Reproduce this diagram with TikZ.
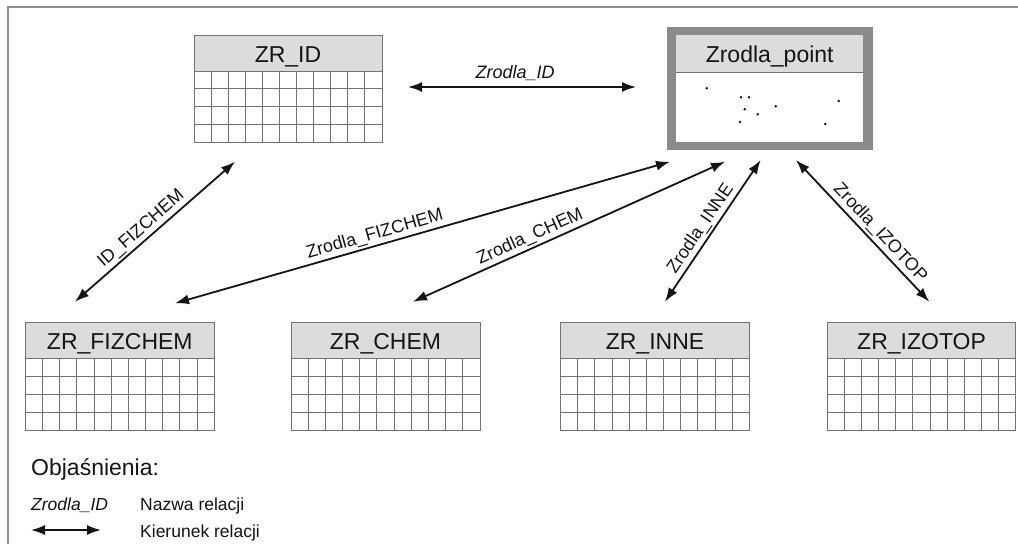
\documentclass[tikz,border=0pt]{standalone}
\usepackage{fontspec}
\setmainfont{Liberation Sans}
\usetikzlibrary{arrows.meta}
\definecolor{hdr}{HTML}{DCDCDC}
\definecolor{gridc}{HTML}{747474}
\definecolor{framec}{HTML}{909090}
\definecolor{thickc}{HTML}{8A8A8A}
\definecolor{ink}{HTML}{141414}
\tikzset{
  gridln/.style={draw=gridc, line width=1.0pt},
  hdrtext/.style={anchor=base, inner sep=0pt, text=ink, font=\fontsize{23}{27}\selectfont},
  conn/.style={draw=ink, line width=1.8pt, {Latex[length=14pt,width=10pt]}-{Latex[length=14pt,width=10pt]}},
  lbl/.style={text=ink, inner sep=2pt, font=\fontsize{18}{21}\selectfont},
  legtxt/.style={anchor=base west, inner sep=0pt, text=ink, font=\fontsize{17.5}{20}\selectfont},
  dot/.style={fill=ink}
}
\newcommand\zrtable[5]{%
 \begin{scope}[shift={(#2,#3)}]
  \fill[hdr] (0,0) rectangle (#4,36);
  \foreach \i in {1,...,10} \draw[gridln] ({\i*#4/11},36) -- ({\i*#4/11},107.3);
  \foreach \j in {1,2,3} \draw[gridln] (0,{36+\j*17.83}) -- (#4,{36+\j*17.83});
  \draw[gridln] (0,36) -- (#4,36);
  \draw[gridln] (0,0) rectangle (#4,107.3);
  \node[hdrtext] (#1) at ({#4/2},27) {#5};
 \end{scope}}
\begin{document}
\begin{tikzpicture}[x=1pt,y=-1pt]
\useasboundingbox (0,0) rectangle (1018,544);
\fill[white] (0,0) rectangle (1018,544);
\draw[framec, line width=1.6pt] (1018,7) -- (8,7) -- (8,544);

% tables
\zrtable{zrid}{194}{35}{188}{ZR\_ID}
\zrtable{zrfiz}{25.3}{322.7}{189}{ZR\_FIZCHEM}
\zrtable{zrchem}{291}{322.7}{189}{ZR\_CHEM}
\zrtable{zrinne}{560.5}{322.7}{189}{ZR\_INNE}
\zrtable{zrizo}{827.3}{322.7}{188.5}{ZR\_IZOTOP}

% Zrodla_point
\fill[thickc] (666.7,26.7) rectangle (872.7,150);
\fill[white] (676,35) rectangle (863.3,141.7);
\fill[hdr] (676,35) rectangle (863.3,72.7);
\draw[gridln] (676,72.7) -- (863.3,72.7);
\node[hdrtext] (zpt) at (769.7,62.3) {Zrodla\_point};
\foreach \px/\py in {706.7/88.3, 741/97.3, 749/97.3, 744.7/109.3, 757.7/114.3, 775.7/106.3, 740/122, 838.7/101, 825.3/124}
  \fill[dot] (\px,\py) circle (1.4);

% connector ends
\coordinate (idR) at (408,87);
\coordinate (ptL) at (636,87);
\coordinate (idB) at (235,161.7);
\coordinate (fizT) at (75,301.7);
\coordinate (ptA) at (670,161.7);
\coordinate (fizB) at (175,303.3);
\coordinate (ptB) at (725,161.7);
\coordinate (chemT) at (413,301.7);
\coordinate (ptC) at (760.7,160);
\coordinate (inneT) at (665,301.7);
\coordinate (ptD) at (796,160);
\coordinate (izoT) at (929.3,301.7);

\draw[conn] (idR) -- node[lbl, above=3pt, pos=0.47, font=\fontsize{18}{21}\selectfont\itshape] (lid) {Zrodla\_ID} (ptL);
\draw[conn] (fizT) -- node[lbl, sloped, above, pos=0.46] (lidfiz) {ID\_FIZCHEM} (idB);
\draw[conn] (fizB) -- node[lbl, sloped, above, pos=0.41] (lzfiz) {Zrodla\_FIZCHEM} (ptA);
\draw[conn] (chemT) -- node[lbl, sloped, above, pos=0.39] (lzchem) {Zrodla\_CHEM} (ptB);
\draw[conn] (inneT) -- node[lbl, sloped, above, pos=0.47] (lzinne) {Zrodla\_INNE} (ptC);
\draw[conn] (ptD) -- node[lbl, sloped, above, pos=0.57] (lzizo) {Zrodla\_IZOTOP} (izoT);

% legend
\node[anchor=base west, inner sep=0pt, text=ink, font=\fontsize{23}{27}\selectfont] (legt) at (31,475) {Objaśnienia:};
\node[legtxt, font=\fontsize{17.5}{20}\selectfont\itshape] (legn) at (31,510) {Zrodla\_ID};
\node[legtxt] (legnt) at (140,510) {Nazwa relacji};
\coordinate (la) at (31,530);
\coordinate (lb) at (101,530);
\draw[conn] (la) -- (lb);
\node[legtxt] (legdt) at (140,537) {Kierunek relacji};
\end{tikzpicture}
\end{document}
